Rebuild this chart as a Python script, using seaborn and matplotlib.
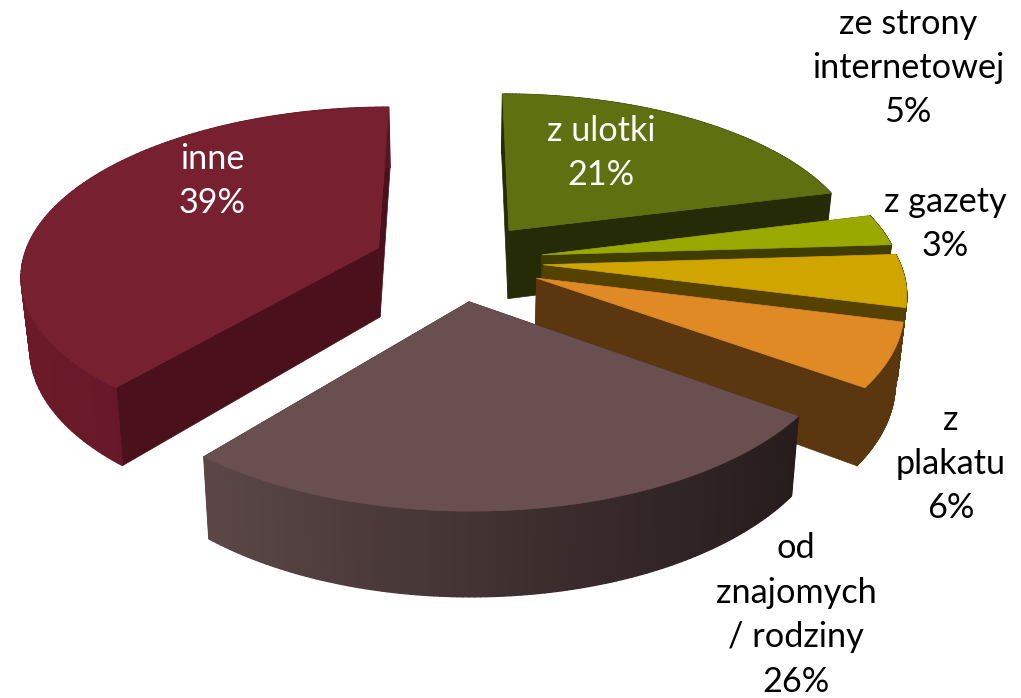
import numpy as np
import matplotlib
matplotlib.use('Agg')
import matplotlib.pyplot as plt
from matplotlib.collections import PolyCollection
import seaborn as sns

# slices, clockwise from 12 o'clock
labels = ['z ulotki', 'z gazety', 'ze strony\ninternetowej', 'z\nplakatu', 'od\nznajomych\n/ rodziny', 'inne']
shares = [21, 3, 5, 6, 26, 39]
top_colors = ['#5f7010', '#9aa900', '#d1a500', '#df8a24', '#6a4f50', '#762030']
cut_colors = ['#252b06', '#3f3e00', '#554200', '#5b3710', '#2a1f1f', '#4a101c']
rim_left = ['#252b06', '#3f3e00', '#554200', '#5b3710', '#5a4646', '#6c1a2a']
rim_right = ['#252b06', '#3f3e00', '#554200', '#5b3710', '#271c1c', '#5a1322']
text_colors = ['white', 'black', 'black', 'black', 'black', 'white']
text_pos = [(601, 153), (945, 224), (908, 68), (951, 464), (796, 615), (212, 181)]

# draw order, back to front
draw_order = [5, 0, 1, 2, 3, 4]

# fake 3d view
center_x, center_y = 458, 261
scale_x, scale_y = 356, 165
persp = 0.148
explode = 0.24
height = 70
bottom_shrink = 0.98


def project(x, y, drop=0.0):
    w = 1 + persp * y
    shrink = 1 - (1 - bottom_shrink) * drop
    return center_x + scale_x * x / w * shrink, center_y - scale_y * y / w + drop * height / w


sns.set_theme(style='white')
plt.rcParams['font.family'] = ['Lato', 'DejaVu Sans']

fig, ax = plt.subplots(figsize=(10.21, 6.98), dpi=100)
fig.subplots_adjust(0, 0, 1, 1)
ax.set_xlim(0, 1021)
ax.set_ylim(698, 0)
ax.axis('off')

ends = 90 - np.cumsum(shares) * 3.6
starts = np.r_[90, ends[:-1]]

for i in draw_order:
    mid = np.radians((starts[i] + ends[i]) / 2)
    ox, oy = explode * np.cos(mid), explode * np.sin(mid)
    a = np.radians(np.linspace(starts[i], ends[i], 120))
    px = np.r_[ox, ox + np.cos(a)]
    py = np.r_[oy, oy + np.sin(a)]

    tx, ty = project(px, py)
    bx, by = project(px, py, 1.0)

    # the two cut faces
    for j in [1, len(px) - 1]:
        ax.fill([tx[0], tx[j], bx[j], bx[0]], [ty[0], ty[j], by[j], by[0]],
                color=cut_colors[i], lw=0.5)

    # rim, shaded from left to right
    rim_pal = sns.blend_palette([rim_left[i], rim_right[i]], 256)
    quads, shades = [], []
    for j in range(1, len(px) - 1):
        quads.append([(tx[j], ty[j]), (tx[j + 1], ty[j + 1]), (bx[j + 1], by[j + 1]), (bx[j], by[j])])
        shades.append(tx[j])
    shades = np.array(shades)
    idx = ((shades - shades.min()) / (shades.max() - shades.min()) * 255).astype(int)
    cols = [rim_pal[k] for k in idx]
    ax.add_collection(PolyCollection(quads, facecolors=cols, edgecolors=cols, linewidths=1.0))

    # top face
    ax.fill(tx, ty, color=top_colors[i], lw=0.5)

for i in range(len(labels)):
    ax.text(text_pos[i][0], text_pos[i][1], f'{labels[i]}\n{shares[i]}%', color=text_colors[i],
            fontsize=24.7, ha='center', va='center', multialignment='center', linespacing=1.48)

fig.savefig('out.png', dpi=100)
